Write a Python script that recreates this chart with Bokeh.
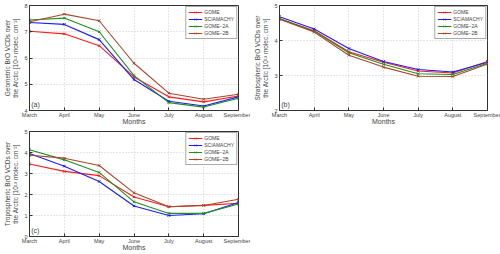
from bokeh.plotting import figure
from bokeh.layouts import column, row
from bokeh.models import Range1d, FixedTicker, Label, Legend, LegendItem
from bokeh.embed import file_html
from bokeh.resources import INLINE

months = ["March", "April", "May", "June", "July", "August", "September"]
series_names = ["GOME", "SCIAMACHY", "GOME\u22122A", "GOME\u22122B"]
colors = ["#ff1a1a", "#1a1aff", "#1f8f1f", "#a8472a"]

# (a) Geometric BrO VCDs
geo_gome = [7.02, 6.92, 6.47, 5.28, 4.52, 4.33, 4.55]
geo_scia = [7.35, 7.28, 6.70, 5.18, 4.35, 4.17, 4.52]
geo_g2a = [7.45, 7.52, 7.00, 5.33, 4.30, 4.13, 4.47]
geo_g2b = [7.38, 7.67, 7.42, 5.80, 4.66, 4.43, 4.62]

# (b) Stratospheric BrO VCDs
str_gome = [4.62, 4.28, 3.68, 3.38, 3.13, 3.07, 3.40]
str_scia = [4.68, 4.33, 3.77, 3.40, 3.17, 3.10, 3.38]
str_g2a = [4.63, 4.26, 3.65, 3.32, 3.05, 3.03, 3.35]
str_g2b = [4.61, 4.24, 3.58, 3.24, 2.98, 2.97, 3.33]

# (c) Tropospheric BrO VCDs
tro_gome = [3.45, 3.10, 2.90, 1.88, 1.42, 1.48, 1.58]
tro_scia = [3.95, 3.35, 2.62, 1.45, 1.00, 1.08, 1.62]
tro_g2a = [4.13, 3.65, 3.05, 1.65, 1.10, 1.10, 1.55]
tro_g2b = [3.87, 3.73, 3.38, 2.08, 1.42, 1.48, 1.77]

FONT = "Liberation Sans"


def make_panel(data, ylab, yr, tag, w, h, bl, br, bt, bb):
    p = figure(width=w, height=h, output_backend="svg", toolbar_location=None,
               x_range=Range1d(0, 6), y_range=Range1d(*yr),
               min_border_left=bl, min_border_right=br, min_border_top=bt,
               min_border_bottom=bb)
    xs = list(range(len(months)))
    items = []
    for name, ys, c in zip(series_names, data, colors):
        l = p.line(xs, ys, line_color=c, line_width=1.1)
        m = p.scatter(xs, ys, marker="x", size=3.5, line_color=c, line_width=1)
        items.append(LegendItem(label=name, renderers=[l, m]))
    leg = Legend(items=items, location="top_right", label_text_font=FONT,
                 label_text_font_size="5px", glyph_width=14, glyph_height=6,
                 label_height=6, spacing=1, padding=2, margin=1,
                 border_line_color="#555555", border_line_width=0.8,
                 label_standoff=2)
    p.add_layout(leg)
    p.xaxis.ticker = FixedTicker(ticks=xs)
    p.xaxis.major_label_overrides = {i: mname for i, mname in enumerate(months)}
    p.yaxis.ticker = FixedTicker(ticks=list(range(int(yr[0]), int(yr[1]) + 1)))
    p.xaxis.axis_label = "Months"
    p.yaxis.axis_label = ylab
    for ax in (p.xaxis, p.yaxis):
        ax.axis_label_text_font = FONT
        ax.axis_label_text_font_style = "normal"
        ax.major_label_text_font = FONT
        ax.major_label_text_font_size = "5.5px"
        ax.major_tick_in = 3
        ax.major_tick_out = 0
        ax.minor_tick_in = 0
        ax.minor_tick_out = 0
        ax.axis_line_color = "#333333"
        ax.major_tick_line_color = "#333333"
    p.xaxis.major_label_standoff = 1
    p.xaxis.axis_label_standoff = -3
    p.yaxis.major_label_standoff = 2
    p.yaxis.axis_label_standoff = 2
    p.xaxis.axis_label_text_font_size = "7px"
    p.yaxis.axis_label_text_font_size = "6.5px"
    p.grid.grid_line_color = "#cccccc"
    p.grid.grid_line_dash = "1 2"
    p.outline_line_color = "#333333"
    p.outline_line_alpha = 1
    p.add_layout(Label(x=0.05, y=yr[0] + (yr[1] - yr[0]) * 0.02, text=tag,
                       text_font=FONT, text_font_size="7px"))
    return p


ylab_tail = "the Arctic [10\u00b9\u00b3 molec. cm\u207b\u00b2]"
pa = make_panel([geo_gome, geo_scia, geo_g2a, geo_g2b],
                "Geometric BrO VCDs over\n" + ylab_tail, (4, 8), "(a)",
                250, 127, 29, 12, 5, 14)
pb = make_panel([str_gome, str_scia, str_g2a, str_g2b],
                "Stratospheric BrO VCDs over\n" + ylab_tail, (2, 5), "(b)",
                250, 127, 29, 13, 5, 14)
pc = make_panel([tro_gome, tro_scia, tro_g2a, tro_g2b],
                "Tropospheric BrO VCDs over\n" + ylab_tail, (0, 5), "(c)",
                250, 127, 29, 12, 4, 18)

layout = column(row(pa, pb), row(pc))
open("out.html", "w").write(file_html(layout, INLINE))
